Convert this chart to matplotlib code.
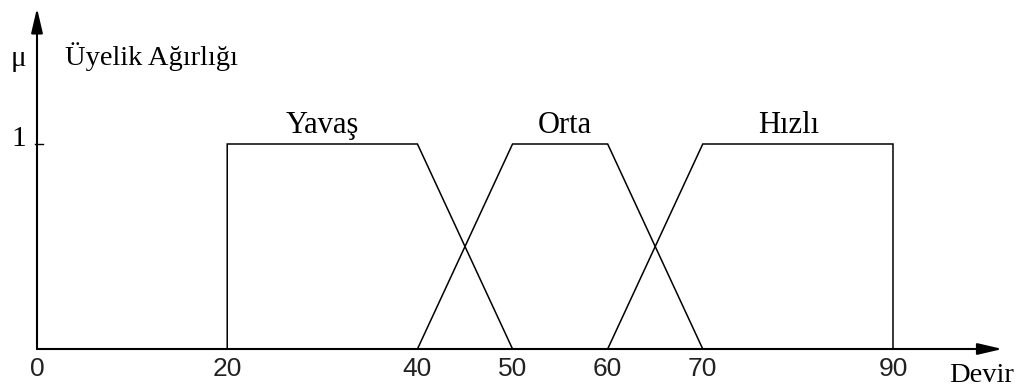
import matplotlib
matplotlib.use("Agg")
import matplotlib.pyplot as plt

# ---- data ----
set_names = ["Yavaş", "Orta", "Hızlı"]
yavas_x = [20, 20, 40, 50]
orta_x = [40, 50, 60, 70]
hizli_x = [60, 70, 90, 90]
membership = [0, 1, 1, 0]
label_x = [30, 55.5, 79]
tick_values = [0, 20, 40, 50, 60, 70, 90]
tick_labels = ["0", "20", "40", "50", "60", "70", "90"]
x_axis_label = "Devir"
y_axis_label = "Üyelik Ağırlığı"
y_symbol = "μ"
y_tick_label = "1"

SERIF = "Liberation Serif"
SANS = "Liberation Sans"

fig = plt.figure(figsize=(10.26, 3.87), dpi=100)
ax = fig.add_axes([0, 0, 1, 1])
ax.set_axis_off()
# pixel mapping: x=0 -> 37px, 9.511 px/unit ; y=0 -> 349px from top, 205 px/unit
ax.set_xlim(-37 / 9.511, (1026 - 37) / 9.511)
ax.set_ylim(-(387 - 349) / 205, 349 / 205)

# membership functions
for xs in (yavas_x, orta_x, hizli_x):
    ax.plot(xs, membership, color="black", lw=1.1, solid_joinstyle="miter")

# axes with arrows
arrow_kw = dict(arrowstyle="-|>,head_length=1.5,head_width=0.35", color="black",
                lw=1.5, shrinkA=0, shrinkB=0, mutation_scale=10)
ax.annotate("", xy=(101.5, 0), xytext=(0, 0), arrowprops=arrow_kw)
ax.annotate("", xy=(0, 1.663), xytext=(0, 0), arrowprops=arrow_kw)

# tick at y=1
ax.plot([-0.2, 0.6], [1, 1], color="black", lw=1.0)

# set labels
for name, lx in zip(set_names, label_x):
    ax.text(lx, 1.054, name, family=SERIF, fontsize=22, ha="center", va="baseline")

# x tick labels
for v, t in zip(tick_values, tick_labels):
    ax.text(v, -0.040, t, family=SANS, fontsize=19, ha="center", va="top",
            color="#222222")

ax.text(95.9, -0.163, x_axis_label, family=SERIF, fontsize=20.5, ha="left", va="baseline")
ax.text(2.94, 1.385, y_axis_label, family=SERIF, fontsize=20.5, ha="left", va="baseline")
ax.text(-1.95, 1.38, y_symbol, family=SERIF, fontsize=21, ha="center", va="baseline")
ax.text(-1.15, 1.025, y_tick_label, family=SERIF, fontsize=21, ha="right", va="center")

fig.savefig("out.png", dpi=100)
